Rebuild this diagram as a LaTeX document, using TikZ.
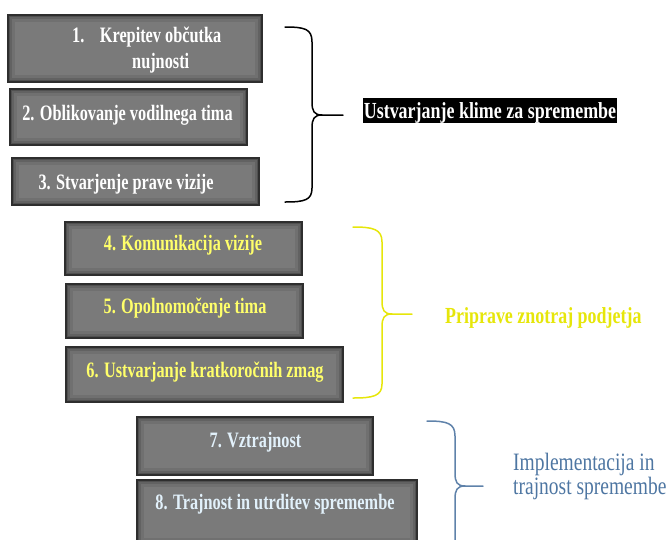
\documentclass[tikz,border=0pt]{standalone}
\usepackage{fontspec}
\newfontfamily\boxfont[FakeStretch=0.74]{Liberation Serif}
\newfontfamily\labfont[FakeStretch=0.78]{Liberation Serif}
\newfontfamily\regfont[FakeStretch=0.78]{Liberation Serif}
\definecolor{boxgray}{HTML}{7A7A7A}
\definecolor{boxedge}{HTML}{2E2E2E}
\definecolor{txtyellow}{HTML}{FFFF6A}
\definecolor{txtblue}{HTML}{E2F1FB}
\definecolor{labyellow}{HTML}{E6E60A}
\definecolor{labblue}{HTML}{4E76A2}
\definecolor{braceblue}{HTML}{5F82AA}
\tikzset{
  box/.style={draw=boxedge, line width=1.3pt, fill=boxgray, inner sep=0pt,
    path picture={
      \foreach \w/\o in {14/0.08, 8/0.12, 4/0.18}{
        \draw[black, opacity=\o, line width=\w pt]
          (path picture bounding box.south west) rectangle (path picture bounding box.north east);}
    }},
  txt/.style={inner sep=0pt, font=\boxfont\bfseries\fontsize{22}{26}\selectfont},
  lab/.style={inner sep=0pt, font=\labfont\bfseries\fontsize{23}{26}\selectfont},
  brace/.style={line width=1.5pt, line cap=round, line join=round}
}
\begin{document}
\begin{tikzpicture}[x=1pt,y=-1pt]
\useasboundingbox (0,0) rectangle (669,539);
\clip (0,0) rectangle (669,539);

% boxes
\node[box, minimum width=254pt, minimum height=67pt] (b1) at (135,48.5) {};
\node[box, minimum width=237pt, minimum height=56pt] (b2) at (128.5,117) {};
\node[box, minimum width=247pt, minimum height=47pt] (b3) at (135.5,181.5) {};
\node[box, minimum width=237pt, minimum height=53pt] (b4) at (183.5,248.5) {};
\node[box, minimum width=237pt, minimum height=54pt] (b5) at (184.5,311) {};
\node[box, minimum width=277pt, minimum height=55pt] (b6) at (204.5,374.5) {};
\node[box, minimum width=236pt, minimum height=58pt] (b7) at (255,446) {};
\node[box, minimum width=280pt, minimum height=65pt] (b8) at (277,512.5) {};

% box texts
\node[txt, text=white, anchor=base west, align=left] (t1) at (72,68)
  {1.\hspace{15.5pt}Krepitev občutka\\\hspace*{60pt}nujnosti};
\node[txt, text=white, anchor=base] (t2) at (127.5,120) {2. Oblikovanje vodilnega tima};
\node[txt, text=white, anchor=base] (t3) at (126,189) {3. Stvarjenje prave vizije};
\node[txt, text=txtyellow, anchor=base] (t4) at (183,250) {4. Komunikacija vizije};
\node[txt, text=txtyellow, anchor=base] (t5) at (185,313) {5. Opolnomočenje tima};
\node[txt, text=txtyellow, anchor=base] (t6) at (205,377) {6. Ustvarjanje kratkoročnih zmag};
\node[txt, text=txtblue, anchor=base] (t7) at (255.5,447) {7. Vztrajnost};
\node[txt, text=txtblue, anchor=base] (t8) at (275,509) {8. Trajnost in utrditev spremembe};

% braces
\draw[brace, black] (285,27) .. controls (305,27) and (312,29) .. (312,42) -- (312,102)
  .. controls (312,111) and (314,115) .. (322,115) -- (343,115) coordinate (k1);
\draw[brace, black] (322,115) .. controls (314,115) and (312,119) .. (312,128) -- (312,188)
  .. controls (312,200) and (305,202) .. (285,202);

\draw[brace, labyellow] (353,227) .. controls (373,227) and (382,229) .. (382,242) -- (382,301)
  .. controls (382,310) and (384,314) .. (392,314) -- (412,314) coordinate (k2);
\draw[brace, labyellow] (392,314) .. controls (384,314) and (382,318) .. (382,327) -- (382,384)
  .. controls (382,396) and (373,398) .. (353,398);

\draw[brace, braceblue] (427,421) .. controls (447,421) and (455,423) .. (455,436) -- (455,473)
  .. controls (455,482) and (457,486) .. (465,486) -- (483,486) coordinate (k3);
\draw[brace, braceblue] (465,486) .. controls (457,486) and (455,490) .. (455,499) -- (455,560);

% labels
\node[lab, fill=black, text=white, inner xsep=1pt, inner ysep=0pt, text height=20pt, text depth=4.5pt]
  (l1) at (490,110.5) {Ustvarjanje klime za spremembe};
\node[lab, text=labyellow, anchor=base west] (l2) at (445,323) {Priprave znotraj podjetja};
\node[inner sep=0pt, text=labblue, anchor=base west, align=left,
  font=\regfont\fontsize{25}{22}\selectfont] (l3) at (513,494) {Implementacija in\\trajnost spremembe};
\end{tikzpicture}
\end{document}
